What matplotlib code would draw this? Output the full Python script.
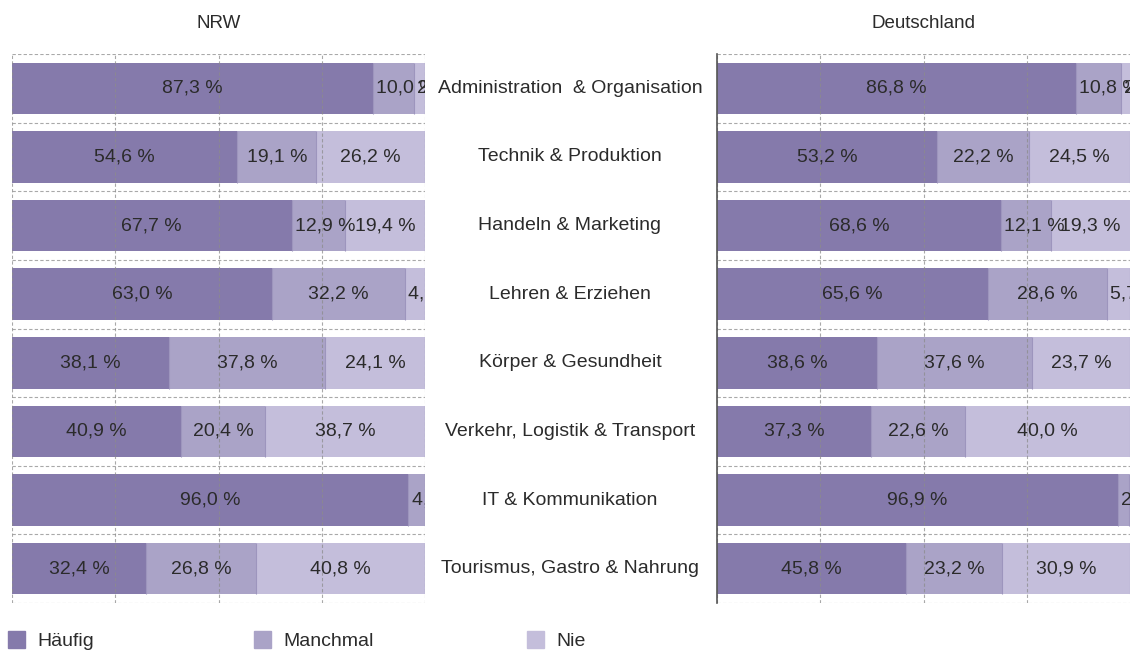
"""Stacked bar comparison: NRW vs. Deutschland by occupational field."""

import matplotlib.pyplot as plt
from matplotlib.patches import Rectangle

plt.rcParams["font.family"] = ["Liberation Sans", "DejaVu Sans"]

categories = [
    "Administration  & Organisation",
    "Technik & Produktion",
    "Handeln & Marketing",
    "Lehren & Erziehen",
    "Körper & Gesundheit",
    "Verkehr, Logistik & Transport",
    "IT & Kommunikation",
    "Tourismus, Gastro & Nahrung",
]
series_names = ["Häufig", "Manchmal", "Nie"]

nrw_haeufig = [87.3, 54.6, 67.7, 63.0, 38.1, 40.9, 96.0, 32.4]
nrw_manchmal = [10.0, 19.1, 12.9, 32.2, 37.8, 20.4, 4.0, 26.8]
nrw_nie = [2.7, 26.2, 19.4, 4.8, 24.1, 38.7, 0.0, 40.8]

de_haeufig = [86.8, 53.2, 68.6, 65.6, 38.6, 37.3, 96.9, 45.8]
de_manchmal = [10.8, 22.2, 12.1, 28.6, 37.6, 22.6, 2.8, 23.2]
de_nie = [2.4, 24.5, 19.3, 5.7, 23.7, 40.0, 0.3, 30.9]

COLORS = ["#857aab", "#aaa3c7", "#c4bedb"]
EDGE = "#9d95bd"
TEXT_COLOR = "#2b2b2b"
FS = 14
W, H = 1130, 652


def fmt(v):
    return f"{v:.1f} %".replace(".", ",")


def draw_panel(ax, series, title, left_spine):
    y = list(range(len(categories)))
    left = [0.0] * len(categories)
    for values, color in zip(series, COLORS):
        ax.barh(y, values, left=left, height=0.75, color=color, zorder=2)
        # thin darker seam at the right end of each segment
        ax.vlines([a + b for a, b in zip(left, values)],
                  [yi - 0.375 for yi in y], [yi + 0.375 for yi in y],
                  color=EDGE, linewidth=0.8, zorder=2.5)
        for yi, start, v in zip(y, left, values):
            if v <= 0:
                continue
            # narrow segments get their label left-aligned at the segment start
            if v < 14:
                x, ha = start + 0.8, "left"
            else:
                x, ha = start + v / 2, "center"
            ax.text(x, yi, fmt(v), ha=ha, va="center", fontsize=FS,
                    color=TEXT_COLOR, clip_on=True, zorder=4)
        left = [a + b for a, b in zip(left, values)]

    ax.set_xlim(0, 100)
    ax.set_ylim(len(categories) - 0.5, -0.5)
    grid_kw = dict(color="#8c8c8c", linestyle=(0, (3, 2)), linewidth=0.8,
                   zorder=3, alpha=0.75)
    for gx in [0, 25, 50, 75, 100]:
        ax.axvline(gx, **grid_kw)
    for gy in [i - 0.5 for i in range(len(categories) + 1)]:
        ax.axhline(gy, **grid_kw)

    ax.set_xticks([])
    ax.set_yticks([])
    for side in ["top", "right", "bottom", "left"]:
        ax.spines[side].set_visible(False)
    if left_spine:
        ax.spines["left"].set_visible(True)
        ax.spines["left"].set_color("#555555")
        ax.spines["left"].set_linewidth(1.2)
        ax.spines["left"].set_zorder(5)
    ax.set_title(title, fontsize=13.5, color=TEXT_COLOR, pad=19)


fig = plt.figure(figsize=(W / 100, H / 100), dpi=100)
bottom = 1 - 603 / H
height = 549 / H
ax_nrw = fig.add_axes([12 / W, bottom, 413 / W, height])
ax_de = fig.add_axes([717 / W, bottom, 413.6 / W, height])

draw_panel(ax_nrw, [nrw_haeufig, nrw_manchmal, nrw_nie], "NRW", False)
draw_panel(ax_de, [de_haeufig, de_manchmal, de_nie], "Deutschland", True)

# category names in the gap between both panels
for i, name in enumerate(categories):
    yd = ax_nrw.transData.transform((0, i))[1]
    fig.text(570 / W, yd / fig.bbox.height, name, ha="center", va="center",
             fontsize=FS, color=TEXT_COLOR)

# legend row
legend_x = [8, 254, 527]
for x0, name, color in zip(legend_x, series_names, COLORS):
    fig.add_artist(Rectangle((x0 / W, 1 - 648 / H), 17 / W, 17 / H,
                             transform=fig.transFigure, color=color))
    fig.text((x0 + 29) / W, 1 - 641 / H, name, ha="left", va="center",
             fontsize=FS, color=TEXT_COLOR)

fig.savefig("out.png", dpi=100)
